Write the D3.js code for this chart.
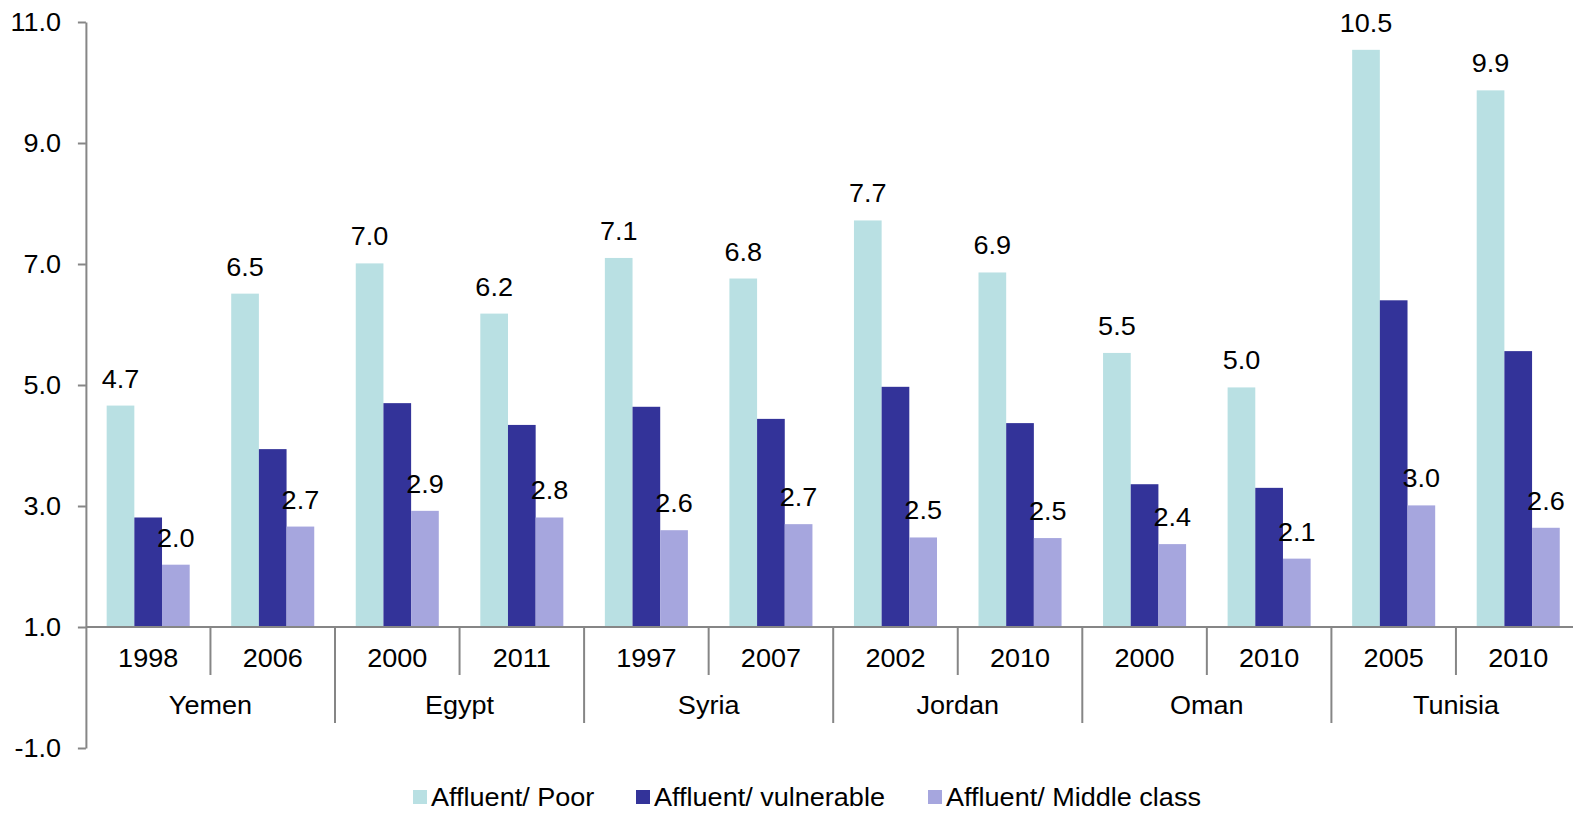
<!DOCTYPE html>
<html>
<head>
<meta charset="utf-8">
<script src="https://cdn.jsdelivr.net/npm/d3@7"></script>
<style>
  html, body { margin: 0; padding: 0; background: #fff; }
  svg { display: block; }
  text { font-family: "Liberation Sans", Arial, sans-serif; fill: #000; }
</style>
</head>
<body>
<svg id="chart" width="1573" height="814"></svg>
<script>
const countries = ["Yemen", "Egypt", "Syria", "Jordan", "Oman", "Tunisia"];
const years = [["1998", "2006"], ["2000", "2011"], ["1997", "2007"], ["2002", "2010"], ["2000", "2010"], ["2005", "2010"]];
const seriesNames = ["Affluent/ Poor", "Affluent/ vulnerable", "Affluent/ Middle class"];
const seriesColors = ["#b9e0e3", "#333399", "#a6a6de"];
const affluentPoor = [4.66, 6.51, 7.01, 6.18, 7.10, 6.76, 7.72, 6.86, 5.53, 4.96, 10.54, 9.87];
const affluentVulnerable = [2.81, 3.94, 4.70, 4.34, 4.64, 4.44, 4.97, 4.37, 3.36, 3.30, 6.40, 5.56];
const affluentMiddle = [2.03, 2.66, 2.92, 2.81, 2.60, 2.70, 2.48, 2.47, 2.37, 2.13, 3.01, 2.64];
const yTicks = [-1, 1, 3, 5, 7, 9, 11];
const labelledSeries = [0, 2];

const seriesValues = [affluentPoor, affluentVulnerable, affluentMiddle];
const cats = [];
years.forEach((ys, ci) => ys.forEach(y => cats.push({ key: countries[ci] + "-" + y, year: y, country: countries[ci] })));

const svg = d3.select("#chart");
const axisColor = "#868686";
const fontSize = 26;
const sx = 1.04; // slight horizontal stretch of the reference's text

const fmt1 = v => d3.format(".1f")(v).replace("\u2212", "-");

const x0 = 85.9, catW = 124.55;
const x = d3.scaleBand().domain(cats.map(c => c.key)).range([x0, x0 + catW * cats.length]).paddingInner(0).paddingOuter(0);
const xs = d3.scaleBand().domain(d3.range(3)).range([0, x.bandwidth()]).paddingInner(0).paddingOuter(0.75);
const y = d3.scaleLinear().domain([-1, 11]).range([748, 22]);

function addText(parent, tx, ty, str, anchor) {
  return parent.append("text")
    .attr("transform", `translate(${tx},${ty}) scale(${sx},1)`)
    .attr("text-anchor", anchor || "middle")
    .style("font-size", fontSize + "px")
    .text(str);
}

// y axis
const yAxis = d3.axisLeft(y).tickValues(yTicks).tickFormat(fmt1).tickSize(8).tickSizeOuter(0);
const gy = svg.append("g").attr("transform", `translate(${x0},0)`).call(yAxis);
gy.select(".domain").attr("stroke", axisColor).attr("stroke-width", 2);
gy.selectAll(".tick line").attr("stroke", axisColor).attr("stroke-width", 2);
gy.selectAll(".tick text").remove();
yTicks.forEach(t => addText(svg, 61, y(t) + 9, fmt1(t), "end"));

// bars
cats.forEach((c, i) => {
  seriesValues.forEach((vals, s) => {
    const v = vals[i];
    svg.append("rect")
      .attr("x", x(c.key) + xs(s))
      .attr("y", y(v))
      .attr("width", xs.bandwidth())
      .attr("height", y(1) - y(v))
      .attr("fill", seriesColors[s]);
  });
});

// x axis baseline at value 1
svg.append("line").attr("x1", x0).attr("x2", x0 + catW * cats.length).attr("y1", y(1)).attr("y2", y(1))
  .attr("stroke", axisColor).attr("stroke-width", 2);

// separators
cats.forEach((c, i) => {
  if (i === 0) return;
  const isCountry = i % 2 === 0;
  const px = x(c.key);
  svg.append("line").attr("x1", px).attr("x2", px).attr("y1", y(1)).attr("y2", isCountry ? 723 : 675)
    .attr("stroke", axisColor).attr("stroke-width", 2);
});

// year labels
cats.forEach(c => addText(svg, x(c.key) + x.bandwidth() / 2, 667, c.year));
// country labels
countries.forEach((cn, ci) => {
  const k = cats[ci * 2].key;
  addText(svg, x(k) + x.bandwidth(), 714, cn);
});

// data labels
cats.forEach((c, i) => {
  labelledSeries.forEach(s => {
    const v = seriesValues[s][i];
    addText(svg, x(c.key) + xs(s) + xs.bandwidth() / 2, y(v) - 18, fmt1(v));
  });
});

// legend
const legendX = [413, 636, 928];
seriesNames.forEach((n, s) => {
  const g = svg.append("g").attr("transform", `translate(${legendX[s]},0)`);
  g.append("rect").attr("x", 0).attr("y", 790).attr("width", 14).attr("height", 14).attr("fill", seriesColors[s]);
  addText(g, 18, 806, n, "start");
});
</script>
</body>
</html>
